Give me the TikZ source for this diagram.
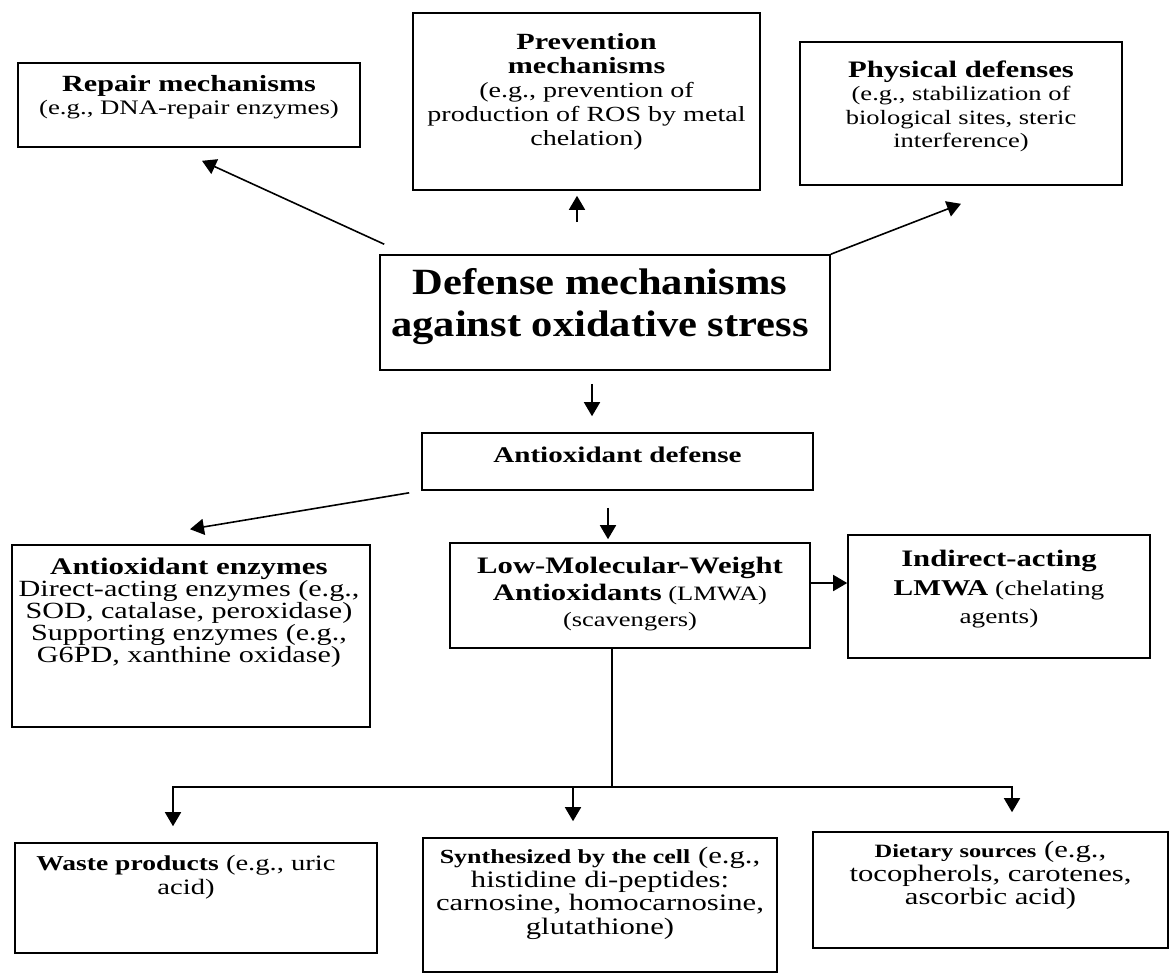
\documentclass[tikz,border=0pt]{standalone}
\usepackage{fontspec}
\setmainfont{Liberation Serif}[FakeStretch=1.3]
\newfontfamily\titlefont{Liberation Serif}[FakeStretch=1.15]
\usetikzlibrary{arrows.meta,calc,fit}
\newcommand\bhd[2]{{\fontsize{#1}{#1}\selectfont\bfseries #2}}
\begin{document}
\begin{tikzpicture}[x=0.5pt,y=-0.5pt,
  box/.style={draw, line width=0.8pt, inner sep=0pt},
  txt/.style={align=center, inner sep=0pt, anchor=north},
  arr/.style={line width=0.8pt, -{Triangle[length=7pt,width=8pt]}},
  ln/.style={line width=0.8pt}]
\useasboundingbox (0,0) rectangle (1171,976);
% boxes
\node[box, fit={(18,63) (360,147)}] (rep) {};
\node[box, fit={(413,13) (760,190)}] (prev) {};
\node[box, fit={(800,42) (1122,185)}] (phys) {};
\node[box, fit={(380,255) (830,370)}] (def) {};
\node[box, fit={(422,433) (813,490)}] (ad) {};
\node[box, fit={(12,545) (370,727)}] (enz) {};
\node[box, fit={(450,543) (810,648)}] (lmwa) {};
\node[box, fit={(848,535) (1150,658)}] (ind) {};
\node[box, fit={(15,843) (377,953)}] (waste) {};
\node[box, fit={(423,838) (777,972)}] (syn) {};
\node[box, fit={(813,832) (1168,948)}] (diet) {};
% texts
\node[txt, font=\fontsize{10.3}{11.5}\selectfont] (reptx) at ($(rep.north)+(0,13)$)
  {\bhd{11.6}{Repair mechanisms}\\(e.g., DNA-repair enzymes)};
\node[txt, font=\fontsize{10.8}{12}\selectfont] (prevtx) at ($(prev.north)+(0,21)$)
  {\bhd{11.6}{Prevention}\\\bhd{11.6}{mechanisms}\\(e.g., prevention of\\production of ROS by metal\\chelation)};
\node[txt, font=\fontsize{10.2}{11.75}\selectfont] (phystx) at ($(phys.north)+(0,19)$)
  {\bhd{11.8}{Physical defenses}\\(e.g., stabilization of\\biological sites, steric\\interference)};
\node[txt, font=\titlefont\fontsize{18.5}{21}\selectfont\bfseries] (deftx) at ($(def.north)+(-5,14)$)
  {Defense mechanisms\\against oxidative stress};
\node[txt, font=\fontsize{11.2}{11}\selectfont\bfseries] (adtx) at ($(ad.north)+(0,14)$)
  {Antioxidant defense};
\node[txt, font=\fontsize{11.6}{11}\selectfont] (enztx) at ($(enz.north)+(-2,13)$)
  {\bhd{11.9}{Antioxidant enzymes}\\Direct-acting enzymes (e.g.,\\SOD, catalase, peroxidase)\\Supporting enzymes (e.g.,\\G6PD, xanthine oxidase)};
\node[txt, font=\fontsize{10.2}{13.25}\selectfont] (lmwatx) at ($(lmwa.north)+(0,15)$)
  {\bhd{11.8}{Low-Molecular-Weight}\\\bhd{11.8}{Antioxidants} (LMWA)\\(scavengers)};
\node[txt, font=\fontsize{10.5}{14.25}\selectfont] (indtx) at ($(ind.north)+(0,16)$)
  {\bhd{11.8}{Indirect-acting}\\\bhd{11.3}{LMWA} (chelating\\agents)};
\node[txt, font=\fontsize{11}{11.75}\selectfont] (wastetx) at ($(waste.north)+(-10,13)$)
  {\bhd{10.6}{Waste products} (e.g., uric\\acid)};
\node[txt, font=\fontsize{11.8}{11.75}\selectfont] (syntx) at ($(syn.north)+(0,10)$)
  {\bhd{10}{Synthesized by the cell} (e.g.,\\histidine di-peptides:\\carnosine, homocarnosine,\\glutathione)};
\node[txt, font=\fontsize{11.8}{11.75}\selectfont] (diettx) at ($(diet.north)+(0,10)$)
  {\bhd{9.4}{Dietary sources} (e.g.,\\tocopherols, carotenes,\\ascorbic acid)};
% connectors
\draw[arr] ($(def.north west)+(5,-10)$) -- ($(rep.south)+(13,13)$);
\draw[arr] ($(def.north)+(-28,-32)$) -- ($(prev.south)+(-9.5,5)$);
\draw[arr] (def.north east) -- ($(phys.south)+(0,18)$);
\draw[arr] ($(def.south)+(-13,13)$) -- ($(ad.north)+(-25.5,-16)$);
\draw[arr] ($(ad.south west)+(-12,2)$) -- ($(enz.north)+(-1,-15)$);
\draw[arr] ($(ad.south)+(-9.5,17)$) -- ($(lmwa.north)+(-22,-3)$);
\draw[arr] ($(lmwa.east)+(0,-12.5)$) -- ($(ind.west)+(0,-13.5)$);
\coordinate (junc) at ($(lmwa.south)+(-18,138)$);
\draw[ln] ($(lmwa.south)+(-18,0)$) -- (junc);
\draw[arr] (junc) -| ($(waste.north)+(-23,-16)$);
\draw[arr] (junc) -| ($(syn.north)+(-27,-16)$);
\draw[arr] (junc) -| ($(diet.north)+(21.5,-19)$);
\end{tikzpicture}
\end{document}
